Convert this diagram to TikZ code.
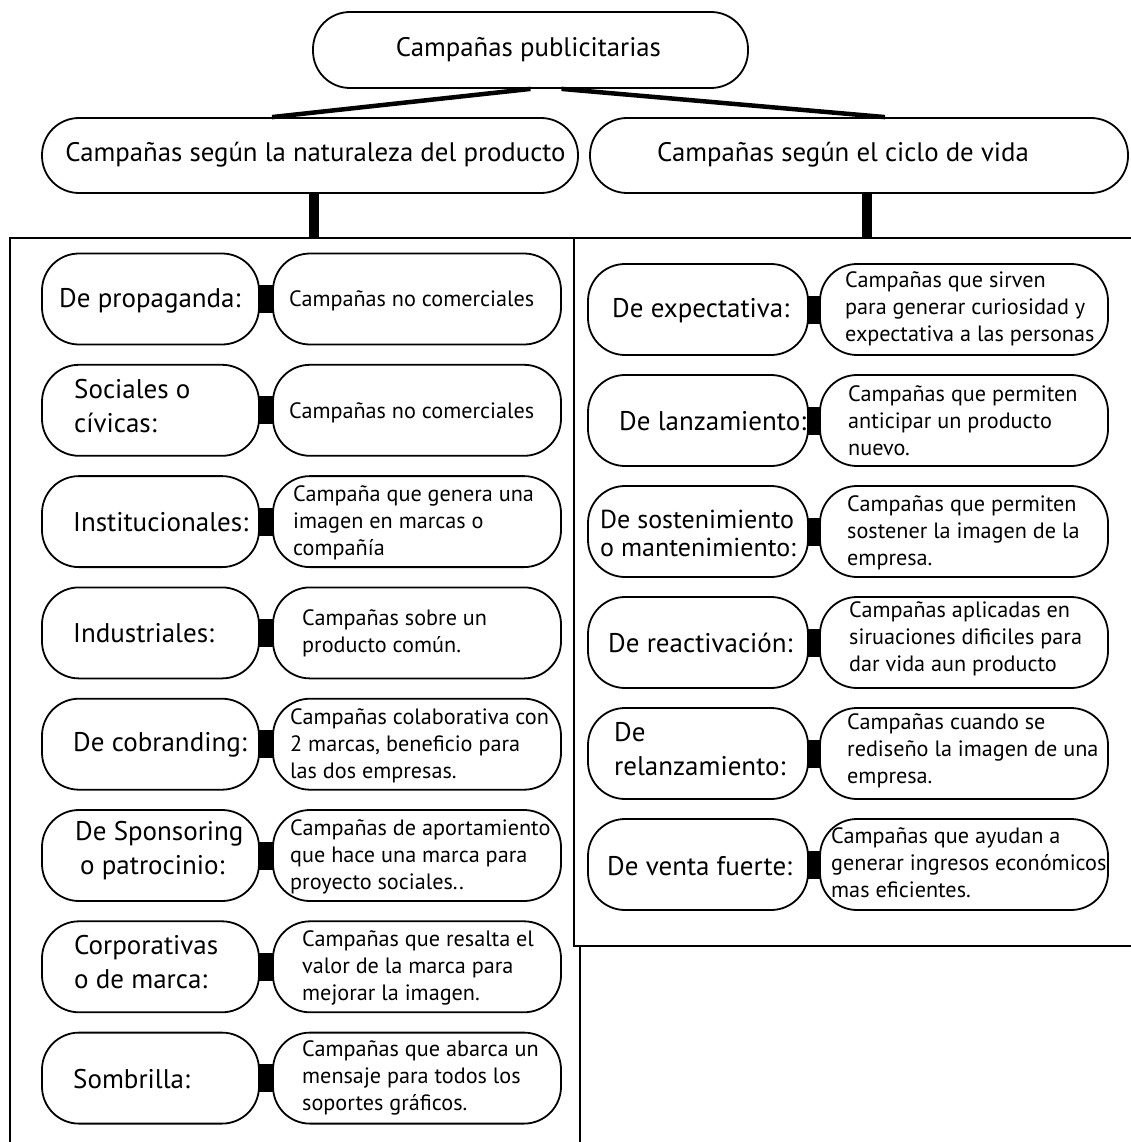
\documentclass[tikz,border=0pt]{standalone}
\usepackage{fontspec}
\setmainfont{PT Sans}
\usetikzlibrary{calc}
\pgfdeclarelayer{back}
\pgfdeclarelayer{mid}
\pgfsetlayers{back,mid,main}
\begin{document}
\begin{tikzpicture}[x=1pt,y=-1pt,
  pill/.style={draw, line width=1.8pt, rounded corners=37pt, fill=white, inner sep=0pt},
  panel/.style={draw, line width=1.8pt, fill=white, inner sep=0pt, anchor=north west},
  stem/.style={line width=4.5pt},
  bar/.style={line width=10pt},
  link/.style={line width=28pt, shorten <=-6pt, shorten >=-6pt},
  head/.style={font=\fontsize{26.8}{32}\selectfont, inner sep=0pt},
  lbl/.style={font=\fontsize{27}{34}\selectfont, align=left, anchor=west, inner sep=0pt},
  desc/.style={font=\fontsize{22.2}{27}\selectfont, align=left, anchor=west, inner sep=0pt}]
\useasboundingbox (0,0) rectangle (1131,1142);

% panels
\begin{pgfonlayer}{back}
\fill[white] (0,0) rectangle (1131,1142);
\node[panel, minimum width=570pt, minimum height=930pt] (pl) at (9,237) {};
\node[panel, minimum width=570pt, minimum height=708pt] (pr) at (573,237) {};
\end{pgfonlayer}

% top levels
\node[pill, minimum width=435pt, minimum height=76pt] (top) at (530.5,50) {};
\node[head] (toptxt) at (528.5,50) {Campañas publicitarias};
\node[pill, minimum width=536pt, minimum height=75pt] (nat) at (310,155.5) {};
\node[head] (nattxt) at (315.5,155) {Campañas según la naturaleza del producto};
\node[pill, minimum width=538pt, minimum height=75pt] (cic) at (859,155.5) {};
\node[head] (cictxt) at (843,155) {Campañas según el ciclo de vida};

\draw[stem] (top.south) -- ($(nat.north)+(-38,0)$);
\draw[stem] ($(top.south)+(31,0)$) -- ($(cic.north)+(26,0)$);
\coordinate (b1) at ($(nat.south)+(4,0)$);
\coordinate (b2) at ($(cic.south)+(8,0)$);
\draw[bar] (b1) -- (b1 |- pl.north);
\draw[bar] (b2) -- (b2 |- pr.north);

% left panel boxes
\foreach \i/\y in {1/299,2/410.3,3/521.6,4/632.9,5/744.2,6/855.5,7/966.8,8/1078.1}{
  \node[pill, minimum width=217pt, minimum height=91pt] (L\i) at (150.5,\y) {};
  \node[pill, minimum width=288pt, minimum height=91pt] (D\i) at (417,\y) {};
  \begin{pgfonlayer}{mid}\draw[link] (L\i) -- (D\i);\end{pgfonlayer}
}
% right panel boxes
\foreach \i/\y in {1/309.5,2/420.5,3/531.5,4/642.5,5/753.5,6/864.5}{
  \node[pill, minimum width=220pt, minimum height=91pt] (R\i) at (698,\y) {};
  \node[pill, minimum width=288pt, minimum height=91pt] (E\i) at (964,\y) {};
  \begin{pgfonlayer}{mid}\draw[link] (R\i) -- (E\i);\end{pgfonlayer}
}

% left labels
\node[lbl] (tL1) at (59,301) {De propaganda:};
\node[lbl] (tL2) at (74,406) {Sociales o\\cívicas:};
\node[lbl] (tL3) at (73,522) {Institucionales:};
\node[lbl] (tL4) at (73,633) {Industriales:};
\node[lbl] (tL5) at (73,745) {De cobranding:};
\node[lbl] (tL6) at (75,851) {De Sponsoring\\\hspace*{5pt}o patrocinio:};
\node[lbl] (tL7) at (74,962) {Corporativas\\o de marca:};
\node[lbl] (tL8) at (73,1079) {Sombrilla:};

% left descriptions
\node[desc] (tD1) at (289,301) {Campañas no comerciales};
\node[desc] (tD2) at (289,413) {Campañas no comerciales};
\node[desc] (tD3) at (293,523) {Campaña que genera una\\imagen en marcas o\\compañía};
\node[desc] (tD4) at (302,633) {Campañas sobre un\\producto común.};
\node[desc] (tD5) at (290,746) {Campañas colaborativa con\\2 marcas, beneficio para\\las dos empresas.};
\node[desc] (tD6) at (290,857) {Campañas de aportamiento\\que hace una marca para\\proyecto sociales..};
\node[desc] (tD7) at (302,968) {Campañas que resalta el\\valor de la marca para\\mejorar la imagen.};
\node[desc] (tD8) at (302,1078) {Campañas que abarca un\\mensaje para todos los\\soportes gráficos.};

% right labels
\node[lbl] (tR1) at (612,311) {De expectativa:};
\node[lbl] (tR2) at (619,421) {De lanzamiento:};
\node[lbl, font=\fontsize{26}{28}\selectfont] (tR3) at (600,533) {De sostenimiento\\o mantenimiento:};
\node[lbl] (tR4) at (608,643) {De reactivación:};
\node[lbl] (tR5) at (614,749) {De\\relanzamiento:};
\node[lbl] (tR6) at (607,866) {De venta fuerte:};

% right descriptions
\node[desc] (tE1) at (845,309) {Campañas que sirven\\para generar curiosidad y\\expectativa a las personas};
\node[desc] (tE2) at (848,421) {Campañas que permiten\\anticipar un producto\\nuevo.};
\node[desc] (tE3) at (847,533) {Campañas que permiten\\sostener la imagen de la\\empresa.};
\node[desc] (tE4) at (849,639) {Campañas aplicadas en\\siruaciones dificiles para\\dar vida aun producto};
\node[desc] (tE5) at (847,751) {Campañas cuando se\\rediseño la imagen de una\\empresa.};
\node[desc] (tE6) at (831,863) {Campañas que ayudan a\\generar ingresos económicos\\mas eficientes.};
\end{tikzpicture}
\end{document}
